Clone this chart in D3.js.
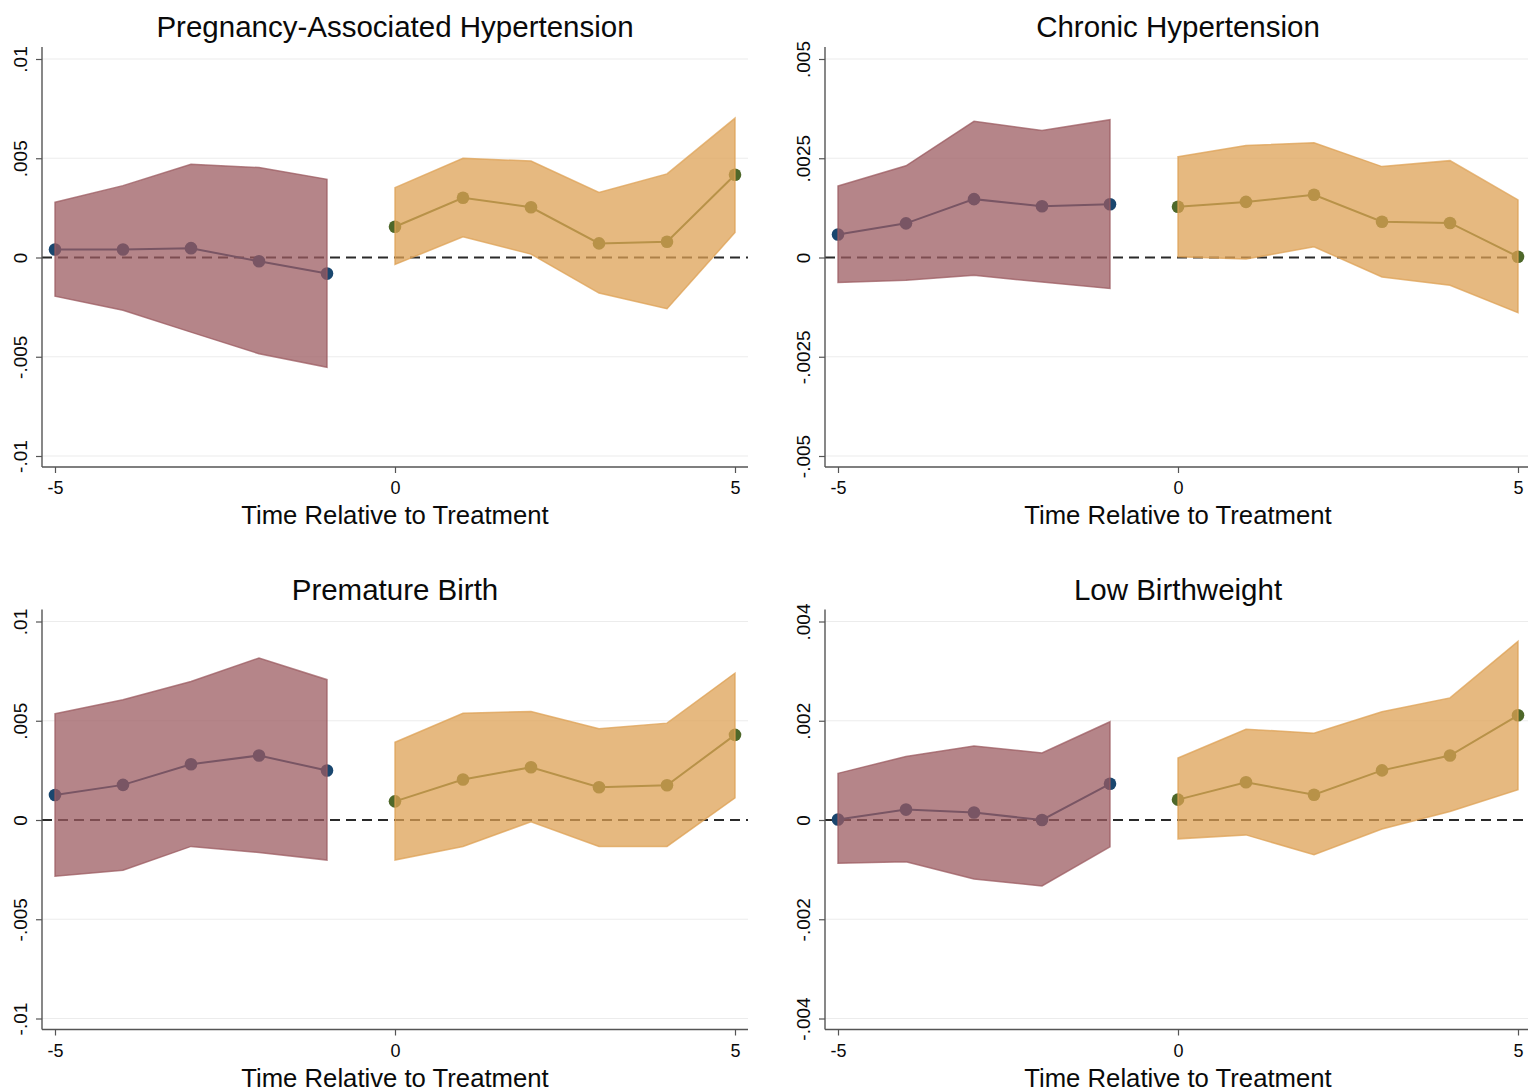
<!DOCTYPE html>
<html>
<head>
<meta charset="utf-8">
<script src="https://cdn.jsdelivr.net/npm/d3@7"></script>
<style>
  html, body { margin: 0; padding: 0; background: #ffffff; }
  svg { display: block; font-family: "Liberation Sans", Arial, Helvetica, sans-serif; }
</style>
</head>
<body>
<svg id="chart" width="1528" height="1090"></svg>
<script>
// Event-study estimates by period relative to treatment (-5 .. 5)
const periods = [-5, -4, -3, -2, -1, 0, 1, 2, 3, 4, 5];
const xTicks = [-5, 0, 5];
const xTitle = "Time Relative to Treatment";

const titles = ["Pregnancy-Associated Hypertension", "Chronic Hypertension", "Premature Birth", "Low Birthweight"];

// Pregnancy-associated hypertension
const pahEst = [0.0004, 0.0004, 0.00047, -0.00019, -0.00081, 0.00155, 0.00301, 0.00253, 0.00071, 0.00079, 0.00417];
const pahLo  = [-0.00195, -0.00266, -0.00376, -0.00485, -0.00553, -0.00035, 0.00104, 0.00017, -0.00179, -0.00258, 0.00126];
const pahHi  = [0.00278, 0.00362, 0.0047, 0.00453, 0.00394, 0.00352, 0.005, 0.00486, 0.00328, 0.00421, 0.00702];

// Chronic hypertension
const chEst = [0.00058, 0.00086, 0.00147, 0.00129, 0.00134, 0.00128, 0.0014, 0.00158, 0.0009, 0.00087, 0.00002];
const chLo  = [-0.00063, -0.00057, -0.00045, -0.00062, -0.00078, 0.00002, -0.00004, 0.00027, -0.00049, -0.0007, -0.00139];
const chHi  = [0.0018, 0.00231, 0.00343, 0.0032, 0.00347, 0.00254, 0.00282, 0.00289, 0.00229, 0.00244, 0.00145];

// Premature birth
const pbEst = [0.00126, 0.00177, 0.00281, 0.00325, 0.00249, 0.00094, 0.00204, 0.00266, 0.00165, 0.00175, 0.00429];
const pbLo  = [-0.00283, -0.00253, -0.00133, -0.00164, -0.00202, -0.00202, -0.00133, -0.00009, -0.00133, -0.00133, 0.00111];
const pbHi  = [0.00535, 0.00606, 0.00698, 0.00816, 0.00707, 0.00392, 0.00538, 0.00547, 0.0046, 0.00488, 0.0074];

// Low birthweight
const lbwEst = [0.00001, 0.00021, 0.00015, 0.0, 0.00073, 0.00041, 0.00076, 0.00051, 0.001, 0.0013, 0.00211];
const lbwLo  = [-0.00087, -0.00084, -0.00119, -0.00133, -0.00054, -0.00038, -0.0003, -0.0007, -0.00018, 0.00017, 0.00061];
const lbwHi  = [0.00094, 0.00128, 0.00149, 0.00135, 0.00198, 0.00125, 0.00183, 0.00175, 0.00218, 0.00246, 0.0036];

// y-axis ticks and their labels for each panel
const pahTicks = [-0.01, -0.005, 0, 0.005, 0.01];
const pahTickLabels = ["-.01", "-.005", "0", ".005", ".01"];
const chTicks = [-0.005, -0.0025, 0, 0.0025, 0.005];
const chTickLabels = ["-.005", "-.0025", "0", ".0025", ".005"];
const pbTicks = [-0.01, -0.005, 0, 0.005, 0.01];
const pbTickLabels = ["-.01", "-.005", "0", ".005", ".01"];
const lbwTicks = [-0.004, -0.002, 0, 0.002, 0.004];
const lbwTickLabels = ["-.004", "-.002", "0", ".002", ".004"];

const panels = [
  { title: titles[0], est: pahEst, lo: pahLo, hi: pahHi, ticks: pahTicks, labels: pahTickLabels, col: 0, row: 0 },
  { title: titles[1], est: chEst,  lo: chLo,  hi: chHi,  ticks: chTicks,  labels: chTickLabels,  col: 1, row: 0 },
  { title: titles[2], est: pbEst,  lo: pbLo,  hi: pbHi,  ticks: pbTicks,  labels: pbTickLabels,  col: 0, row: 1 },
  { title: titles[3], est: lbwEst, lo: lbwLo, hi: lbwHi, ticks: lbwTicks, labels: lbwTickLabels, col: 1, row: 1 }
];

// Layout
const colAxisX = [42, 825];      // x of the vertical axis line
const rowTopTick = [59, 621.5];  // y of the highest tick
const rowBotTick = [456, 1018.5];// y of the lowest tick
const plotWidth = 706;

const style = {
  pre:  { band: "rgb(155,90,96)",  marker: "#1a476f" },
  post: { band: "rgb(221,160,84)", marker: "#4e682a" },
  bandOpacity: 0.74,
  axis: "#555555",
  grid: "#ececec",
  text: "#0a0a0a"
};

const svg = d3.select("#chart");

panels.forEach(p => {
  const ax = colAxisX[p.col];
  const top = rowTopTick[p.row], bot = rowBotTick[p.row];
  const baseY = bot + 11;
  const g = svg.append("g");

  const x = d3.scaleLinear().domain([-5, 5]).range([ax + 13, ax + 693]);
  const y = d3.scaleLinear().domain([d3.min(p.ticks), d3.max(p.ticks)]).range([bot, top]);

  const rows = periods.map((t, i) => ({ t, est: p.est[i], lo: p.lo[i], hi: p.hi[i] }));
  const pre = rows.filter(d => d.t < 0);
  const post = rows.filter(d => d.t >= 0);

  // grid lines
  g.selectAll("line.grid").data(p.ticks.filter(v => v !== 0)).enter().append("line")
    .attr("x1", ax).attr("x2", ax + plotWidth)
    .attr("y1", d => y(d)).attr("y2", d => y(d))
    .attr("stroke", style.grid).attr("stroke-width", 1.2);

  // zero reference line
  g.append("line")
    .attr("x1", ax).attr("x2", ax + plotWidth)
    .attr("y1", y(0)).attr("y2", y(0))
    .attr("stroke", "#2a2a2a").attr("stroke-width", 1.9)
    .attr("stroke-dasharray", "10,6");

  // y axis
  const yAxis = d3.axisLeft(y).tickValues(p.ticks).tickSize(6)
    .tickFormat((d, i) => p.labels[i]);
  const ya = g.append("g").attr("transform", `translate(${ax},0)`).call(yAxis);
  ya.attr("font-size", null).attr("font-family", null);
  ya.select(".domain").attr("d", `M0,${top - 12}V${baseY}`)
    .attr("stroke", style.axis).attr("stroke-width", 1.4).attr("fill", "none");
  ya.selectAll(".tick line").attr("stroke", style.axis).attr("stroke-width", 1.2);
  ya.selectAll(".tick text")
    .attr("x", null).attr("dy", null)
    .attr("transform", "translate(-15,0) rotate(-90)")
    .attr("text-anchor", "middle")
    .style("font-size", "19px").attr("fill", style.text);

  // x axis
  const xAxis = d3.axisBottom(x).tickValues(xTicks).tickSize(6).tickFormat(d3.format("d"));
  const xa = g.append("g").attr("transform", `translate(0,${baseY})`).call(xAxis);
  xa.attr("font-size", null).attr("font-family", null);
  xa.select(".domain").attr("d", `M${ax},0H${ax + plotWidth}`).attr("stroke", style.axis).attr("stroke-width", 1.4);
  xa.selectAll(".tick line").attr("stroke", style.axis).attr("stroke-width", 1.2);
  xa.selectAll(".tick text").attr("y", 27).attr("dy", null)
    .style("font-size", "18px").attr("fill", style.text)
    .text(d => d < 0 ? "-" + Math.abs(d) : String(d));

  // estimate lines and markers
  const line = d3.line().x(d => x(d.t)).y(d => y(d.est));
  [[pre, style.pre], [post, style.post]].forEach(([data, s]) => {
    g.append("path").datum(data).attr("d", line)
      .attr("fill", "none").attr("stroke", s.marker).attr("stroke-width", 2);
    g.selectAll(null).data(data).enter().append("circle")
      .attr("cx", d => x(d.t)).attr("cy", d => y(d.est)).attr("r", 6.3)
      .attr("fill", s.marker);
  });

  // translucent confidence bands laid over the estimates
  const area = d3.area().x(d => x(d.t)).y0(d => y(d.lo)).y1(d => y(d.hi));
  [[pre, style.pre], [post, style.post]].forEach(([data, s]) => {
    g.append("path").datum(data).attr("d", area)
      .attr("fill", s.band).attr("fill-opacity", style.bandOpacity)
      .attr("stroke", s.band).attr("stroke-opacity", style.bandOpacity)
      .attr("stroke-width", 1.5).attr("stroke-linejoin", "miter");
  });

  // titles
  g.append("text").attr("x", x(0)).attr("y", top - 22)
    .attr("text-anchor", "middle").style("font-size", "29.5px").attr("fill", style.text)
    .text(p.title);
  g.append("text").attr("x", x(0)).attr("y", baseY + 57)
    .attr("text-anchor", "middle").style("font-size", "25.7px").attr("fill", style.text)
    .text(xTitle);
});
</script>
</body>
</html>
